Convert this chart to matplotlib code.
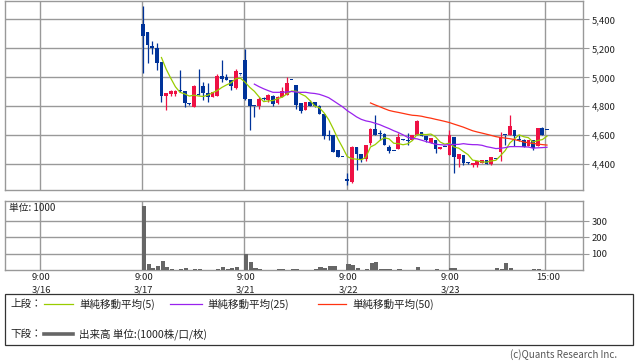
import matplotlib
matplotlib.use('Agg')
import matplotlib.pyplot as plt
from matplotlib.patches import Rectangle
from matplotlib.lines import Line2D
import matplotlib.transforms as mtransforms
import numpy as np
import pandas as pd

plt.rcParams['font.family'] = ['Noto Sans CJK JP', 'DejaVu Sans']

# ---------------- data ----------------
day_labels = ['3/16', '3/17', '3/21', '3/22', '3/23']
slots_per_day = 22

# 15-minute bars, per trading day (3/17, 3/21, 3/22, 3/23)
open_d1 = [5366, 5310, 5214, 5205, 5103, 4871, 4885, 4885, 4915, 4906, 4814, 4795, 4881, 4938, 4892, 4864, 4871, 5007, 5000, 4984, 4929, 5021]
high_d1 = [5490, 5310, 5250, 5237, 5103, 4890, 4915, 4910, 5053, 4906, 4819, 4947, 5055, 4966, 4961, 4899, 5021, 5122, 5021, 4984, 5060, 5025]
low_d1 = [5030, 5099, 5163, 5048, 4830, 4772, 4871, 4871, 4899, 4795, 4810, 4795, 4876, 4841, 4830, 4864, 4871, 4970, 4979, 4910, 4922, 5015]
close_d1 = [5285, 5225, 5202, 5101, 4871, 4890, 4906, 4906, 4906, 4819, 4814, 4938, 4876, 4892, 4864, 4899, 5007, 4988, 4979, 4938, 5043, 5021]

open_d2 = [5122, 4853, 4800, 4800, 4857, 4841, 4869, 4823, 4864, 4876, 4982, 4945, 4823, 4772, 4832, 4832, 4800, 4745, 4600, 4600, 4497, 4451]
high_d2 = [5198, 4853, 4800, 4864, 4864, 4888, 4878, 4871, 4933, 5002, 4982, 4945, 4823, 4830, 4841, 4832, 4809, 4745, 4639, 4600, 4497, 4451]
low_d2 = [4841, 4634, 4726, 4781, 4846, 4832, 4800, 4818, 4864, 4876, 4982, 4784, 4754, 4772, 4805, 4795, 4745, 4575, 4566, 4485, 4451, 4451]
close_d2 = [4853, 4800, 4800, 4853, 4853, 4878, 4814, 4864, 4906, 4961, 4982, 4807, 4768, 4830, 4805, 4800, 4745, 4593, 4593, 4485, 4451, 4451]

open_d3 = [4299, 4278, 4519, 4469, 4432, 4543, 4641, 4612, 4607, 4519, 4490, 4506, 4570, 4570, 4570, 4598, 4621, 4593, 4547, 4566, 4506, 4519]
high_d3 = [4336, 4524, 4519, 4469, 4531, 4653, 4738, 4634, 4612, 4531, 4490, 4612, 4575, 4612, 4602, 4703, 4621, 4593, 4579, 4566, 4519, 4519]
low_d3 = [4255, 4271, 4359, 4416, 4423, 4531, 4600, 4566, 4529, 4474, 4490, 4506, 4565, 4531, 4565, 4598, 4593, 4552, 4547, 4474, 4506, 4519]
close_d3 = [4281, 4519, 4469, 4432, 4531, 4641, 4600, 4610, 4529, 4492, 4490, 4588, 4570, 4561, 4602, 4699, 4593, 4566, 4579, 4506, 4519, 4519]

open_d4 = [4462, 4584, 4432, 4462, 4409, 4393, 4393, 4405, 4428, 4400, 4432, 4485, 4602, 4602, 4634, 4570, 4570, 4524, 4570, 4524, 4648, 4639]
high_d4 = [4639, 4584, 4467, 4462, 4415, 4409, 4423, 4428, 4428, 4450, 4432, 4623, 4602, 4738, 4634, 4602, 4575, 4570, 4570, 4648, 4657, 4639]
low_d4 = [4462, 4340, 4381, 4391, 4400, 4381, 4381, 4405, 4400, 4391, 4432, 4423, 4531, 4602, 4524, 4560, 4519, 4524, 4500, 4524, 4602, 4639]
close_d4 = [4600, 4446, 4467, 4405, 4409, 4409, 4423, 4428, 4400, 4450, 4432, 4584, 4602, 4662, 4593, 4570, 4519, 4570, 4508, 4648, 4602, 4639]

# volume in thousands
vol_d1 = [394, 37, 12, 25, 55, 18, 6, 2, 6, 12, 2, 6, 6, 2, 2, 2, 8, 18, 8, 12, 18, 2]
vol_d2 = [99, 49, 12, 6, 2, 2, 2, 6, 6, 2, 6, 6, 2, 2, 2, 8, 18, 12, 25, 25, 2, 2]
vol_d3 = [37, 31, 12, 2, 8, 43, 49, 8, 8, 8, 2, 8, 2, 2, 2, 18, 2, 2, 2, 8, 2, 2]
vol_d4 = [12, 12, 2, 2, 2, 2, 2, 2, 2, 2, 12, 8, 43, 12, 2, 2, 2, 2, 8, 8, 2, 2]

price_ticks = [4400, 4600, 4800, 5000, 5200, 5400]
price_tick_labels = ['4,400', '4,600', '4,800', '5,000', '5,200', '5,400']
vol_ticks = [100, 200, 300]
vol_tick_labels = ['100', '200', '300']

ma_periods = [5, 25, 50]
ma_colors = ['#99cc00', '#9922ee', '#ff3311']
ma_labels = ['単純移動平均(5)', '単純移動平均(25)', '単純移動平均(50)']

# ---------------- assemble ----------------
opens = np.array(open_d1 + open_d2 + open_d3 + open_d4, float)
highs = np.array(high_d1 + high_d2 + high_d3 + high_d4, float)
lows = np.array(low_d1 + low_d2 + low_d3 + low_d4, float)
closes = np.array(close_d1 + close_d2 + close_d3 + close_d4, float)
vols = np.array(vol_d1 + vol_d2 + vol_d3 + vol_d4, float)

day_idx = np.repeat([1, 2, 3, 4], slots_per_day)
slot_idx = np.tile(np.arange(slots_per_day), 4)
xc = day_idx * slots_per_day + slot_idx + 0.15
xv = day_idx * slots_per_day + slot_idx + 0.4

W, H = 638, 362
fig = plt.figure(figsize=(W / 100, H / 100), dpi=100)


def fx(px):
    return px / W


def fy(py):
    return 1 - py / H


GRID = '#999999'
RED = '#ee1144'
BLUE = '#003399'

ax = fig.add_axes([fx(5), fy(190), fx(578), 189.5 / H])
axv = fig.add_axes([fx(5), fy(270), fx(578), 69 / H])

xmin, xmax = -7.53, 116.9
for a in (ax, axv):
    a.set_xlim(xmin, xmax)
    for s in a.spines.values():
        s.set_color(GRID)
        s.set_linewidth(1.0)
    a.set_xticks([0, 22, 44, 66, 88, 108.7])
    a.tick_params(axis='x', length=0, labelbottom=False)
    a.grid(True, color=GRID, linewidth=1.0)
    a.set_axisbelow(True)
    a.yaxis.tick_right()
    a.tick_params(axis='y', direction='out', length=4, width=0.8, color=GRID,
                  labelsize=6.8, pad=2, labelcolor='#222222', left=False)

ax.set_ylim(4221, 5531)
ax.set_yticks(price_ticks)
ax.set_yticklabels(price_tick_labels)

axv.set_ylim(0, 423)
axv.set_yticks(vol_ticks)
axv.set_yticklabels(vol_tick_labels)

# candles
up = closes > opens
colors = np.where(up, RED, BLUE)
ax.vlines(xc, lows, highs, colors=colors, linewidth=0.9, zorder=2)
body_h = np.maximum(np.abs(closes - opens), 7)
body_b = np.minimum(opens, closes)
ax.bar(xc, body_h, bottom=body_b, width=0.8, color=colors, linewidth=0, zorder=3)

# moving averages
cs = pd.Series(closes)
for p, c in zip(ma_periods, ma_colors):
    ma = cs.rolling(p).mean()
    ax.plot(xc, ma, color=c, linewidth=0.9, zorder=4)

# volume
axv.bar(xv, vols, width=0.9, color='#666666', linewidth=0, zorder=3)
fig.text(fx(9), fy(208), '単位: 1000', fontsize=7, va='center', ha='left', color='#222222')

# x labels
trans = mtransforms.blended_transform_factory(axv.transData, fig.transFigure)
for i, lab in enumerate(day_labels):
    axv.text(i * 22 + 0.3, fy(277), '9:00', transform=trans, ha='center', va='center',
             fontsize=6.8, color='#222222')
    axv.text(i * 22 + 0.3, fy(290), lab, transform=trans, ha='center', va='center',
             fontsize=6.8, color='#222222')
axv.text(109.4, fy(277), '15:00', transform=trans, ha='center', va='center',
         fontsize=6.8, color='#222222')

# legend box
fig.patches.append(Rectangle((fx(5), fy(345)), fx(628), 51 / H, transform=fig.transFigure,
                             fill=False, edgecolor='#333333', linewidth=0.9))
fs = 7.6
fig.text(fx(10), fy(304), '上段：', fontsize=fs, va='center', ha='left', color='#222222')
line_x = [(44, 73), (170, 202), (318, 346)]
text_x = [79, 207, 352]
for (x0, x1), tx, c, lab in zip(line_x, text_x, ma_colors, ma_labels):
    fig.add_artist(Line2D([fx(x0), fx(x1)], [fy(304), fy(304)], transform=fig.transFigure,
                          color=c, linewidth=0.9))
    fig.text(fx(tx), fy(304), lab, fontsize=fs, va='center', ha='left', color='#222222')
fig.text(fx(10), fy(334), '下段：', fontsize=fs, va='center', ha='left', color='#222222')
fig.add_artist(Line2D([fx(44), fx(73)], [fy(334), fy(334)], transform=fig.transFigure,
                      color='#666666', linewidth=2.6))
fig.text(fx(79), fy(334), '出来高 単位:(1000株/口/枚)', fontsize=fs, va='center', ha='left',
         color='#222222')

fig.text(fx(617), fy(355), '(c)Quants Research Inc.', fontsize=7, va='center', ha='right',
         color='#555555')

fig.savefig('out.png', dpi=100)
